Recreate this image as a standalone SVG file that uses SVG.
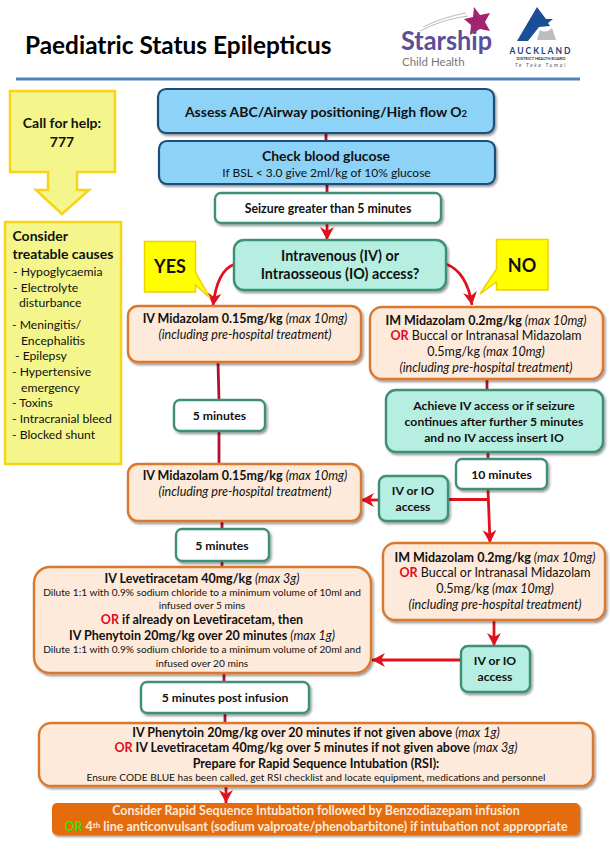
<svg xmlns="http://www.w3.org/2000/svg" width="610" height="851" viewBox="0 0 610 851">
<style>
text{font-family:"Lato","Carlito","Liberation Sans",sans-serif;fill:#111;text-anchor:middle}
.b{font-weight:700}
.i{font-style:italic;font-weight:400}
.s13{font-size:12.5px}
.s12{font-size:12.2px}
.s10{font-size:10.15px}
.l{text-anchor:start}
.or{fill:#e00b1c;font-weight:700}
.blue{fill:#8dd3f8;stroke:#1f4e79;stroke-width:2.2}
.teal{fill:#b6efe1;stroke:#3d8f78;stroke-width:2.4}
.white{fill:#fff;stroke:#3d8f78;stroke-width:2.4}
.peach{fill:#fdeada;stroke:#d9782d;stroke-width:2.4}
.yel{fill:#ffff00;stroke:#f0d000;stroke-width:1.5}
.pale{fill:#f4f68c;stroke:#f7d417;stroke-width:2.5}
.c{fill:none;stroke:#e0101c;stroke-width:2.8}
.d{fill:none;stroke:#b0132b;stroke-width:2.8}
</style>
<defs>
<filter id="sh" x="-10%" y="-15%" width="120%" height="135%"><feDropShadow dx="1.5" dy="2" stdDeviation="1.3" flood-color="#000" flood-opacity=".4"/></filter>
<marker id="a" markerUnits="userSpaceOnUse" markerWidth="18" markerHeight="16" refX="13" refY="7" orient="auto"><path d="M0 0L13 7L0 14L4 7Z" fill="#e0101c"/></marker>
</defs>
<rect width="610" height="851" fill="#fff"/>
<text class="b l" x="25" y="54" font-size="24.4" style="fill:#000">Paediatric Status Epilepticus</text>
<g id="logos">
<path d="M420 31Q443 19 468 16M423 27Q443 17 466 13" fill="none" stroke="#bbb" stroke-width="1"/>
<path d="M474 7L480 15L490 13L485 22L490 31L480 29L470 35L471 25L464 19L473 17Z" fill="#a0246f"/>
<text class="l b" x="401" y="50" font-size="26" style="fill:#5b4e9a" textLength="91" lengthAdjust="spacingAndGlyphs">Starship</text>
<text class="l" x="402" y="66" font-size="11.500" style="fill:#777">Child Health</text>
<path d="M537 7L546 19L553 19L548 23L550 26L539 27L528 41L517 41Z" fill="#1a4e96"/>
<path d="M540 30Q546 34 552 28L556 40L537 40Z" fill="#bdbdbd"/>
<text class="b" x="541" y="54" font-size="8.500" letter-spacing="2" style="fill:#1a3e7c">AUCKLAND</text>
<text class="b" x="541" y="60" font-size="4" style="fill:#333">DISTRICT HEALTH BOARD</text>
<text class="i" x="541" y="67" font-size="5" letter-spacing="1.800" style="fill:#555">Te Toka Tumai</text>
</g>
<rect x="16" y="77.500" width="564" height="3" fill="#4f81bd"/>
<g id="connectors">
<path class="d" d="M326 133V142M327 184V194"/>
<path class="c" d="M327 223V240" marker-end="url(#a)"/>
<path class="c" d="M235 264Q217 270 213 306" marker-end="url(#a)"/>
<path class="c" d="M446 264Q467 272 472 305" marker-end="url(#a)"/>
<path class="d" d="M218 362L219 400M219 431V464M487 379V390M488 452V459M222 520V529M222 561V567M224 673V682M225 713V723"/>
<path class="c" d="M488 489L490 543" marker-end="url(#a)"/>
<path class="c" d="M488 499.500H447"/>
<path class="c" d="M379 500H361" marker-end="url(#a)"/>
<path class="c" d="M494 620V646" marker-end="url(#a)"/>
<path class="c" d="M461 660H372" marker-end="url(#a)"/>
<path class="c" d="M226 786V803" marker-end="url(#a)"/>
</g>
<g id="call-for-help"><path class="pale" d="M10 91H115V172H77V190H89L62 214L36 190H48V172H10Z"/>
<text class="b" x="62" y="128" font-size="14">Call for help:</text><text class="b" x="62" y="147" font-size="14">777</text></g>
<g id="causes"><rect class="pale" x="5" y="222" width="116" height="242"/>
<text class="b l" x="12.500" y="241" font-size="14">Consider</text>
<text class="b l" x="12.500" y="259" font-size="14">treatable causes</text>
<g class="s12">
<text class="l" x="13" y="276">- Hypoglycaemia</text>
<text class="l" x="13" y="292">- Electrolyte</text>
<text class="l" x="19" y="307">disturbance</text>
<text class="l" x="12" y="329">- Meningitis/</text>
<text class="l" x="21" y="345">Encephalitis</text>
<text class="l" x="15" y="360">- Epilepsy</text>
<text class="l" x="12" y="376">- Hypertensive</text>
<text class="l" x="21" y="392">emergency</text>
<text class="l" x="12" y="407">- Toxins</text>
<text class="l" x="12" y="423">- Intracranial bleed</text>
<text class="l" x="12" y="439">- Blocked shunt</text>
</g></g>
<g id="assess"><rect class="blue" filter="url(#sh)" x="158" y="89" width="336" height="44" rx="8"/>
<text class="b" x="326" y="117" font-size="14">Assess ABC/Airway positioning/High flow O<tspan font-size="9.500">2</tspan></text></g>
<g id="glucose"><rect class="blue" filter="url(#sh)" x="159" y="141" width="336" height="43" rx="8"/>
<text class="b" x="326" y="161" font-size="14">Check blood glucose</text><text x="326.500" y="177" font-size="12">If BSL &lt; 3.0 give 2ml/kg of 10% glucose</text></g>
<g id="seizure"><rect class="white" filter="url(#sh)" x="215" y="193" width="226" height="30" rx="6"/>
<text class="b" x="328" y="213" font-size="12.300">Seizure greater than 5 minutes</text></g>
<g id="access"><rect class="teal" filter="url(#sh)" x="234" y="240" width="212" height="50" rx="10"/>
<text class="b" x="340" y="261" font-size="14.300">Intravenous (IV) or</text><text class="b" x="340" y="279" font-size="14.300">Intraosseous (IO) access?</text></g>
<g id="yes"><path class="yel" d="M144.500 241.500H195.500V272L210 298L195.500 285V292H144.500Z"/><text class="b" x="170" y="273" font-size="18">YES</text></g>
<g id="no"><path class="yel" d="M496.500 239.500H548V290H496.500V282L480 294L496.500 269Z"/><text class="b" x="522" y="272" font-size="18">NO</text></g>
<g id="iv-midazolam-1"><rect class="peach" filter="url(#sh)" x="128" y="306" width="233" height="56" rx="10"/>
<text class="s13" x="245" y="323"><tspan class="b">IV Midazolam 0.15mg/kg </tspan><tspan class="i">(max 10mg)</tspan></text><text class="s13 i" x="245" y="339">(including pre-hospital treatment)</text></g>
<g id="im-midazolam-1"><rect class="peach" filter="url(#sh)" x="370" y="307" width="233" height="72" rx="12"/>
<g class="s13"><text x="486" y="325"><tspan class="b">IM Midazolam 0.2mg/kg </tspan><tspan class="i">(max 10mg)</tspan></text>
<text x="486" y="340"><tspan class="or">OR</tspan>  Buccal or Intranasal Midazolam</text>
<text x="486" y="356">0.5mg/kg <tspan class="i">(max 10mg)</tspan></text>
<text class="i" x="486" y="372">(including pre-hospital treatment)</text></g></g>
<g id="achieve"><rect class="teal" filter="url(#sh)" x="386" y="390" width="217" height="62" rx="10"/>
<g class="b s12"><text x="494" y="410">Achieve IV access or if seizure</text><text x="494" y="426">continues after further 5 minutes</text><text x="494" y="442">and no IV access insert IO</text></g></g>
<g id="five-1"><rect class="white" filter="url(#sh)" x="174" y="400" width="91" height="31" rx="6"/><text class="b s12" x="219.500" y="420">5 minutes</text></g>
<g id="ten"><rect class="white" filter="url(#sh)" x="456" y="459" width="91" height="30" rx="6"/><text class="b s12" x="501.500" y="479">10 minutes</text></g>
<g id="iv-midazolam-2"><rect class="peach" filter="url(#sh)" x="128" y="464" width="233" height="57" rx="10"/>
<text class="s13" x="245" y="480"><tspan class="b">IV Midazolam 0.15mg/kg </tspan><tspan class="i">(max 10mg)</tspan></text><text class="s13 i" x="245" y="496">(including pre-hospital treatment)</text></g>
<g id="io-1"><rect class="teal" filter="url(#sh)" x="379" y="476" width="69" height="45" rx="7"/><text class="b s12" x="413" y="495">IV or IO</text><text class="b s12" x="413" y="511">access</text></g>
<g id="five-2"><rect class="white" filter="url(#sh)" x="176" y="529" width="93" height="32" rx="6"/><text class="b s12" x="222" y="550">5 minutes</text></g>
<g id="levetiracetam"><rect class="peach" filter="url(#sh)" x="34" y="567" width="337" height="106" rx="16"/>
<text class="s13" x="202" y="583"><tspan class="b">IV Levetiracetam 40mg/kg </tspan><tspan class="i">(max 3g)</tspan></text>
<text class="s10" x="202" y="596">Dilute 1:1 with 0.9% sodium chloride to a minimum volume of 10ml and</text>
<text class="s10" x="202" y="609">infused over 5 mins</text>
<text class="s13 b" x="202" y="624"><tspan class="or">OR</tspan> if already on Levetiracetam, then</text>
<text class="s13" x="202" y="640"><tspan class="b">IV Phenytoin 20mg/kg over 20 minutes </tspan><tspan class="i">(max 1g)</tspan></text>
<text class="s10" x="202" y="653">Dilute 1:1 with 0.9% sodium chloride to a minimum volume of 20ml and</text>
<text class="s10" x="202" y="667">infused over 20 mins</text></g>
<g id="im-midazolam-2"><rect class="peach" filter="url(#sh)" x="383" y="543" width="222" height="77" rx="12"/>
<g class="s13"><text x="495" y="562"><tspan class="b">IM Midazolam 0.2mg/kg </tspan><tspan class="i">(max 10mg)</tspan></text>
<text x="495" y="577"><tspan class="or">OR</tspan>  Buccal or Intranasal Midazolam</text>
<text x="495" y="593">0.5mg/kg <tspan class="i">(max 10mg)</tspan></text>
<text class="i" x="495" y="609">(including pre-hospital treatment)</text></g></g>
<g id="io-2"><rect class="teal" filter="url(#sh)" x="461" y="646" width="69" height="46" rx="7"/><text class="b s12" x="495" y="665">IV or IO</text><text class="b s12" x="495" y="681">access</text></g>
<g id="five-post"><rect class="white" filter="url(#sh)" x="141" y="682" width="168" height="31" rx="6"/><text class="b s12" x="225" y="702">5 minutes post infusion</text></g>
<g id="phenytoin"><rect class="peach" filter="url(#sh)" x="39" y="723" width="554" height="63" rx="12"/>
<text class="s13" x="316" y="737"><tspan class="b">IV Phenytoin 20mg/kg over 20 minutes if not given above </tspan><tspan class="i">(max 1g)</tspan></text>
<text class="s13" x="316" y="752"><tspan class="or">OR</tspan><tspan class="b"> IV Levetiracetam 40mg/kg over 5 minutes if not given above </tspan><tspan class="i">(max 3g)</tspan></text>
<text class="s13 b" x="316" y="768">Prepare for Rapid Sequence Intubation (RSI):</text>
<text class="s10" x="316" y="781">Ensure CODE BLUE has been called, get RSI checklist and locate equipment, medications and personnel</text></g>
<g id="rsi"><rect filter="url(#sh)" x="52" y="803" width="528" height="32" rx="5" fill="#e46c0a"/>
<text class="b s13" x="316" y="815" style="fill:#fde9d9">Consider Rapid Sequence Intubation followed by Benzodiazepam infusion</text>
<text class="b s13" x="316" y="831" style="fill:#fde9d9"><tspan style="fill:#4ed800">OR</tspan> 4<tspan font-size="8" dy="-3">th</tspan><tspan dy="3"> line anticonvulsant (sodium valproate/phenobarbitone) if intubation not appropriate</tspan></text></g>
</svg>
